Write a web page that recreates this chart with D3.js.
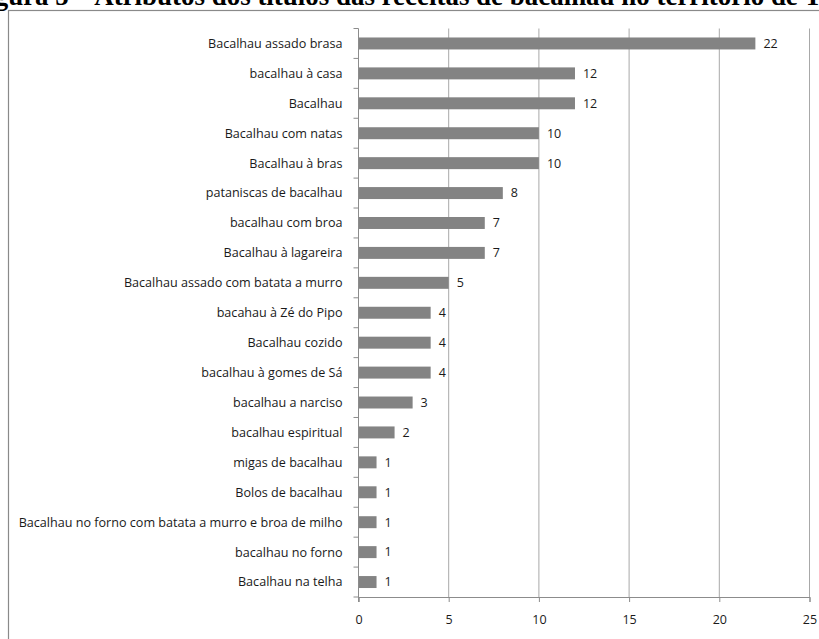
<!DOCTYPE html>
<html>
<head>
<meta charset="utf-8">
<script src="https://cdn.jsdelivr.net/npm/d3@7"></script>
<style>
  body { margin: 0; background: #fff; }
  svg { display: block; }
</style>
</head>
<body>
<div id="chart"></div>
<script>
// recipe titles, top to bottom, and how many times each appears
const categories = [
  "Bacalhau assado brasa",
  "bacalhau à casa",
  "Bacalhau",
  "Bacalhau com natas",
  "Bacalhau à bras",
  "pataniscas de bacalhau",
  "bacalhau com broa",
  "Bacalhau à lagareira",
  "Bacalhau assado com batata a murro",
  "bacahau à Zé do Pipo",
  "Bacalhau cozido",
  "bacalhau à gomes de Sá",
  "bacalhau a narciso",
  "bacalhau espiritual",
  "migas de bacalhau",
  "Bolos de bacalhau",
  "Bacalhau no forno com batata a murro e broa de milho",
  "bacalhau no forno",
  "Bacalhau na telha"
];
const counts = [22, 12, 12, 10, 10, 8, 7, 7, 5, 4, 4, 4, 3, 2, 1, 1, 1, 1, 1];
const xTicks = [0, 5, 10, 15, 20, 25];
const titlePrefix = "Figura 5 – ";
const titleBody = "Atributos dos títulos das receitas de bacalhau no território de ";
const titleEnd = "Trás-os-Montes";

const width = 819;
const height = 639;
const margin = { top: 28.5, right: 9.5, bottom: 42, left: 358.5 };

const svg = d3.select("#chart")
  .append("svg")
  .attr("width", width)
  .attr("height", height);

// caption: sits above the page, only its lower part shows like in the scan
const caption = svg.append("text")
  .attr("y", 5)
  .attr("font-family", "Liberation Serif")
  .attr("font-weight", "bold")
  .attr("font-size", 20)
  .attr("fill", "#000")
  .text(titleBody);
// fit so "Atributos" starts at ~89 and "Tr" at ~793
const bodyW = caption.node().getComputedTextLength();
const capSize = 20 * 704 / bodyW;
caption.attr("font-size", capSize).text(titlePrefix);
const prefixW = caption.node().getComputedTextLength();
caption.attr("x", 89 - prefixW).text(titlePrefix + titleBody + titleEnd);

// chart frame (only top and left edges are visible)
svg.append("rect")
  .attr("x", 8.5)
  .attr("y", 10.5)
  .attr("width", 830)
  .attr("height", 640)
  .attr("fill", "none")
  .attr("stroke", "#8a8a8a")
  .attr("stroke-width", 1.2);

const x = d3.scaleLinear()
  .domain([0, 25])
  .range([margin.left, width - margin.right]);

const y = d3.scaleBand()
  .domain(categories)
  .range([margin.top, height - margin.bottom])
  .paddingInner(0.6)
  .paddingOuter(0.3);

const band = (height - margin.bottom - margin.top) / categories.length;

// vertical gridlines
svg.append("g")
  .selectAll("line")
  .data(xTicks.slice(1))
  .enter()
  .append("line")
  .attr("x1", d => x(d))
  .attr("x2", d => x(d))
  .attr("y1", margin.top)
  .attr("y2", height - margin.bottom)
  .attr("stroke", "#a8a8a8")
  .attr("stroke-width", 1);

// bars
svg.append("g")
  .selectAll("rect")
  .data(counts)
  .enter()
  .append("rect")
  .attr("x", x(0))
  .attr("y", (d, i) => y(categories[i]))
  .attr("width", d => x(d) - x(0))
  .attr("height", y.bandwidth())
  .attr("fill", "#838383");

// value labels
svg.append("g")
  .selectAll("text")
  .data(counts)
  .enter()
  .append("text")
  .attr("x", d => x(d) + 8)
  .attr("y", (d, i) => y(categories[i]) + y.bandwidth() / 2)
  .attr("dy", "0.35em")
  .attr("font-family", "Open Sans")
  .attr("font-size", 12.5)
  .attr("fill", "#1a1a1a")
  .text(d => d);

// y axis: line plus ticks at band edges
const yAxis = svg.append("g").attr("stroke", "#8c8c8c").attr("stroke-width", 1);
yAxis.append("line")
  .attr("x1", x(0)).attr("x2", x(0))
  .attr("y1", margin.top).attr("y2", height - margin.bottom + 5);
yAxis.selectAll(".ytick")
  .data(d3.range(categories.length + 1))
  .enter()
  .append("line")
  .attr("class", "ytick")
  .attr("x1", x(0) - 5).attr("x2", x(0))
  .attr("y1", i => margin.top + i * band)
  .attr("y2", i => margin.top + i * band);

svg.append("g")
  .selectAll("text")
  .data(categories)
  .enter()
  .append("text")
  .attr("x", x(0) - 16)
  .attr("y", d => y(d) + y.bandwidth() / 2)
  .attr("dy", "0.35em")
  .attr("text-anchor", "end")
  .attr("font-family", "Open Sans")
  .attr("font-size", 12.6)
  .attr("fill", "#1a1a1a")
  .text(d => d);

// x axis
const xAxis = d3.axisBottom(x)
  .tickValues(xTicks)
  .tickSize(5)
  .tickPadding(13)
  .tickFormat(d3.format("d"));

const xAxisGroup = svg.append("g")
  .attr("transform", `translate(0, ${height - margin.bottom})`)
  .call(xAxis);

xAxisGroup.select(".domain").attr("stroke", "#8c8c8c");
xAxisGroup.selectAll(".tick line").attr("stroke", "#8c8c8c");
xAxisGroup.selectAll(".tick text")
  .attr("font-family", "Open Sans")
  .attr("font-size", 12.5)
  .attr("fill", "#1a1a1a");
</script>
</body>
</html>
